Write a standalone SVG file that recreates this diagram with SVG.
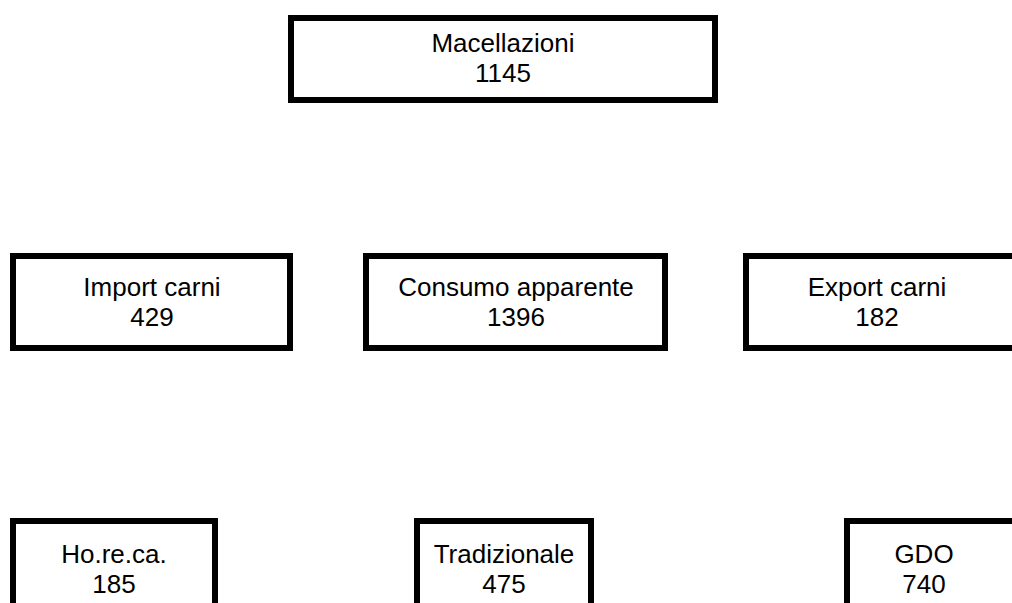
<svg xmlns="http://www.w3.org/2000/svg" width="1012" height="603" viewBox="0 0 1012 603">
  <style>
    .box { fill: #ffffff; stroke: #000000; stroke-width: 6; }
    .lbl { font-family: "Liberation Sans", Arial, sans-serif; font-size: 26px; fill: #000000; text-anchor: middle; }
  </style>
  <rect width="1012" height="603" fill="#ffffff"/>
  <g id="connectors"></g>
  <g id="macellazioni">
    <rect class="box" x="291" y="18" width="424" height="82"/>
    <text class="lbl" x="503" y="52">Macellazioni</text>
    <text class="lbl" x="503" y="82">1145</text>
  </g>
  <g id="import-carni">
    <rect class="box" x="13" y="256" width="277" height="92"/>
    <text class="lbl" x="152" y="296">Import carni</text>
    <text class="lbl" x="152" y="326">429</text>
  </g>
  <g id="consumo-apparente">
    <rect class="box" x="366" y="256" width="299" height="92"/>
    <text class="lbl" x="516" y="296">Consumo apparente</text>
    <text class="lbl" x="516" y="326">1396</text>
  </g>
  <g id="export-carni">
    <rect class="box" x="746" y="256" width="270" height="92"/>
    <text class="lbl" x="877" y="296">Export carni</text>
    <text class="lbl" x="877" y="326">182</text>
  </g>
  <g id="horeca">
    <rect class="box" x="13" y="521" width="202" height="100"/>
    <text class="lbl" x="114" y="563">Ho.re.ca.</text>
    <text class="lbl" x="114" y="593">185</text>
  </g>
  <g id="tradizionale">
    <rect class="box" x="417" y="521" width="174" height="100"/>
    <text class="lbl" x="504" y="563">Tradizionale</text>
    <text class="lbl" x="504" y="593">475</text>
  </g>
  <g id="gdo">
    <rect class="box" x="847" y="521" width="180" height="100"/>
    <text class="lbl" x="924" y="563">GDO</text>
    <text class="lbl" x="924" y="593">740</text>
  </g>
</svg>
